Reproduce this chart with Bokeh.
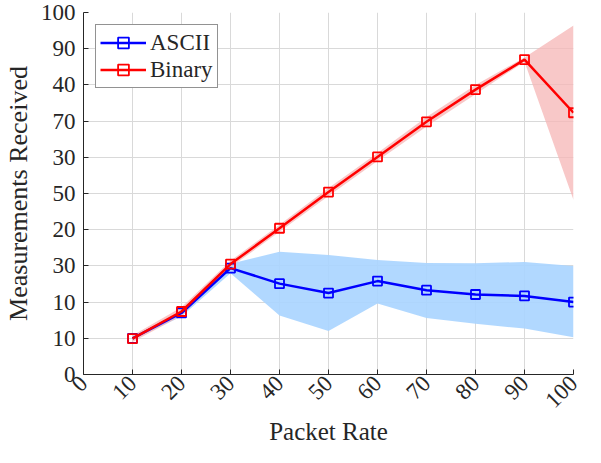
import math
from bokeh.plotting import figure
from bokeh.models import FixedTicker, Range1d
from bokeh.embed import file_html
from bokeh.resources import INLINE

rates = [10, 20, 30, 40, 50, 60, 70, 80, 90, 100]
ascii_mean = [10.0, 17.0, 29.4, 25.1, 22.5, 25.8, 23.3, 22.1, 21.7, 20.0]
ascii_low = [9.6, 16.0, 28.0, 16.3, 12.0, 19.6, 15.6, 14.0, 12.7, 10.3]
ascii_high = [10.4, 17.6, 30.6, 33.9, 33.0, 31.6, 30.8, 30.7, 31.1, 30.0]
binary_mean = [9.9, 17.4, 30.5, 40.4, 50.4, 60.1, 69.8, 78.7, 87.0, 72.3]
binary_low = [9.0, 16.2, 29.6, 39.4, 49.3, 59.0, 68.5, 77.4, 86.4, 48.2]
binary_high = [10.8, 18.6, 31.4, 41.4, 51.5, 61.2, 71.1, 80.0, 87.6, 96.4]

x_ticks = [0, 10, 20, 30, 40, 50, 60, 70, 80, 90, 100]
y_ticks = [0, 10, 20, 30, 40, 50, 60, 70, 80, 90, 100]
y_tick_labels = ["0", "10", "10", "30", "20", "50", "30", "70", "40", "90", "100"]

FONT = "Liberation Serif"

p = figure(width=585, height=447, output_backend="svg", toolbar_location=None,
           x_range=Range1d(0, 100), y_range=Range1d(0, 100),
           min_border_left=78, min_border_right=12, min_border_top=12,
           min_border_bottom=60)
p.outline_line_color = None
p.background_fill_color = "white"

p.varea(x=rates, y1=ascii_low, y2=ascii_high, fill_color="#a8d4ff", fill_alpha=0.9)
p.varea(x=rates, y1=binary_low, y2=binary_high, fill_color="#f5b5b5", fill_alpha=0.75)

p.line(rates, ascii_mean, line_color="#0000ff", line_width=2.5, legend_label="ASCII")
p.scatter(rates, ascii_mean, marker="square", size=9, line_color="#0000ff",
          line_width=1.8, fill_color=None, legend_label="ASCII")
p.line(rates, binary_mean, line_color="#ff0000", line_width=2.5, legend_label="Binary")
p.scatter(rates, binary_mean, marker="square", size=9, line_color="#ff0000",
          line_width=1.8, fill_color=None, legend_label="Binary")

p.xaxis.ticker = FixedTicker(ticks=x_ticks)
p.yaxis.ticker = FixedTicker(ticks=y_ticks)
p.yaxis.major_label_overrides = {t: l for t, l in zip(y_ticks, y_tick_labels)}
p.xaxis.major_label_orientation = math.pi / 4

for ax in (p.xaxis, p.yaxis):
    ax.axis_line_color = "#262626"
    ax.axis_line_width = 1
    ax.major_tick_line_color = "#262626"
    ax.major_tick_in = 5
    ax.major_tick_out = 0
    ax.minor_tick_line_color = None
    ax.major_label_text_font = FONT
    ax.major_label_text_font_size = "23px"
    ax.major_label_text_color = "#262626"
    ax.axis_label_text_font = FONT
    ax.axis_label_text_font_size = "25px"
    ax.axis_label_text_font_style = "normal"
    ax.axis_label_text_color = "#262626"

p.yaxis.axis_label_text_font_size = "26px"
p.xaxis.axis_label = "Packet Rate"
p.yaxis.axis_label = "Measurements Received"
p.yaxis.major_label_standoff = 8
p.xaxis.major_label_standoff = 5
p.xaxis.axis_label_standoff = 0

p.grid.grid_line_color = "#d9d9d9"
p.grid.grid_line_width = 1

p.legend.location = "top_left"
p.legend.margin = 12
p.legend.padding = 4
p.legend.spacing = 0
p.legend.glyph_width = 46
p.legend.glyph_height = 27
p.legend.label_standoff = 4
p.legend.label_text_font = FONT
p.legend.label_text_font_size = "23px"
p.legend.label_text_color = "#262626"
p.legend.border_line_color = "#262626"
p.legend.border_line_width = 1
p.legend.background_fill_alpha = 1

open("out.html", "w").write(file_html(p, INLINE))
